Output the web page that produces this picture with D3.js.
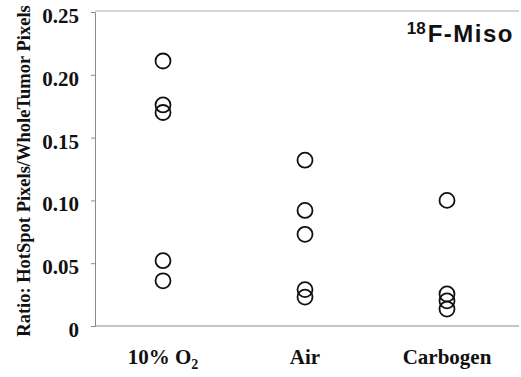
<!DOCTYPE html>
<html>
<head>
<meta charset="utf-8">
<script src="https://cdn.jsdelivr.net/npm/d3@7"></script>
<style>
  body { margin: 0; background: #fff; }
  svg { display: block; }
</style>
</head>
<body>
<div id="chart"></div>
<script>
const groups = ['10% O2', 'Air', 'Carbogen']
const o2Values = [0.211, 0.176, 0.170, 0.052, 0.036]
const airValues = [0.132, 0.092, 0.073, 0.029, 0.023]
const carbogenValues = [0.100, 0.0255, 0.020, 0.0135]
const yTicks = [0, 0.05, 0.10, 0.15, 0.20, 0.25]

const series = [o2Values, airValues, carbogenValues]
const points = []
series.forEach((vals, i) => vals.forEach(v => points.push({ group: groups[i], value: v })))

const dimensions = {
  width: 521,
  height: 377,
  margin: { top: 12, bottom: 51, left: 95, right: 2 }
}
dimensions.ctrWidth = dimensions.width - dimensions.margin.left - dimensions.margin.right
dimensions.ctrHeight = dimensions.height - dimensions.margin.top - dimensions.margin.bottom

const svg = d3.select('#chart')
  .append('svg')
  .attr('width', dimensions.width)
  .attr('height', dimensions.height)

const ctr = svg.append('g')
  .attr('transform', `translate(${dimensions.margin.left}, ${dimensions.margin.top})`)

// x is a point scale, padded so groups land at ~163, 306, 447
const xScale = d3.scalePoint()
  .domain(groups)
  .range([68, 352])

const yScale = d3.scaleLinear()
  .domain([0, 0.25])
  .range([dimensions.ctrHeight, 0])

const serif = '"Liberation Serif", "Times New Roman", serif'
const lineColor = '#8a8a8a'

// frame line along the top
ctr.append('line')
  .attr('x1', 0).attr('x2', dimensions.ctrWidth)
  .attr('y1', -1).attr('y2', -1)
  .attr('stroke', '#aaa')
  .attr('stroke-width', 1)

// y axis
const yAxis = d3.axisLeft(yScale)
  .tickValues(yTicks)
  .tickSize(4)
  .tickPadding(12)
  .tickFormat(d => d === 0 ? '0' : d3.format('.2f')(d))
const yAxisGroup = ctr.append('g').call(yAxis)
yAxisGroup.select('.domain').attr('stroke', lineColor)
yAxisGroup.selectAll('.tick line').attr('stroke', lineColor)
yAxisGroup.selectAll('.tick text')
  .attr('fill', '#111')
  .attr('dy', '0.5em')
  .style('font-family', serif)
  .style('font-weight', 'bold')
  .style('font-size', '21px')

// x axis (baseline only, no ticks)
const xAxisGroup = ctr.append('g')
  .attr('transform', `translate(0, ${dimensions.ctrHeight})`)
xAxisGroup.append('line')
  .attr('x1', 0).attr('x2', dimensions.ctrWidth)
  .attr('stroke', lineColor)
  .attr('stroke-width', 1)

// category labels
const labels = xAxisGroup.selectAll('text.cat')
  .data(groups)
  .join('text')
  .attr('class', 'cat')
  .attr('x', d => xScale(d))
  .attr('y', 38)
  .attr('text-anchor', 'middle')
  .attr('fill', '#111')
  .style('font-family', serif)
  .style('font-weight', 'bold')
  .style('font-size', '21px')
labels.each(function(d){
  const t = d3.select(this)
  if(d === '10% O2'){
    t.append('tspan').text('10% O')
    t.append('tspan').attr('dy', 5).style('font-size', '14px').text('2')
  }else {
    t.text(d)
  }
})

// points
ctr.append('g')
  .selectAll('circle')
  .data(points)
  .join('circle')
  .attr('cx', d => xScale(d.group))
  .attr('cy', d => yScale(d.value))
  .attr('r', 7.5)
  .attr('fill', 'none')
  .attr('stroke', '#111')
  .attr('stroke-width', 1.8)

// y title
svg.append('text')
  .attr('transform', `translate(30, ${dimensions.margin.top + dimensions.ctrHeight / 2 + 2}) rotate(-90)`)
  .attr('text-anchor', 'middle')
  .attr('fill', '#111')
  .style('font-family', serif)
  .style('font-weight', 'bold')
  .style('font-size', '18.5px')
  .text('Ratio: HotSpot Pixels/WholeTumor Pixels')

// tracer label
const tracer = svg.append('text')
  .attr('x', 514)
  .attr('y', 42)
  .attr('text-anchor', 'end')
  .attr('fill', '#111')
  .style('font-family', '"Liberation Sans", Arial, sans-serif')
  .style('font-weight', 'bold')
  .style('font-size', '24px')
tracer.append('tspan').attr('dy', -8).style('font-size', '17px').text('18')
tracer.append('tspan').attr('dy', 8).attr('dx', 2).style('letter-spacing', '1.5px').text('F-Miso')
</script>
</body>
</html>
